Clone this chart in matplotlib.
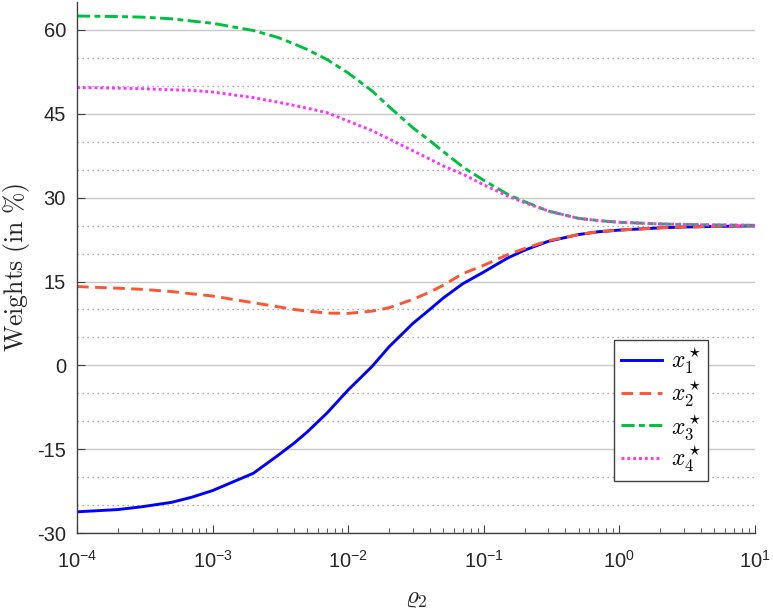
import numpy as np
import matplotlib
matplotlib.use("Agg")
import matplotlib.pyplot as plt
from matplotlib.ticker import FixedLocator, LogLocator

plt.rcParams['font.family'] = ['Liberation Sans', 'DejaVu Sans']
plt.rcParams['mathtext.fontset'] = 'custom'
plt.rcParams['mathtext.rm'] = 'Liberation Sans'
plt.rcParams['mathtext.it'] = 'Liberation Sans:italic'
plt.rcParams['axes.unicode_minus'] = False

rho2 = [1e-4, 2e-4, 3e-4, 5e-4, 7e-4, 1e-3, 2e-3, 3e-3, 4e-3, 5e-3, 7e-3,
        1e-2, 1.5e-2, 2e-2, 3e-2, 4e-2, 5e-2, 7e-2, 0.1, 0.15, 0.2, 0.3,
        0.5, 0.7, 1, 2, 3, 5, 10]
x1 = [-26.2, -25.8, -25.3, -24.5, -23.6, -22.4, -19.3, -16.2, -13.9, -11.9, -8.5,
      -4.4, -0.2, 3.3, 7.5, 10.0, 12.0, 14.6, 16.7, 19.2, 20.6, 22.2,
      23.4, 23.9, 24.2, 24.6, 24.75, 24.85, 24.95]
x2 = [14.1, 13.8, 13.6, 13.2, 12.8, 12.4, 11.2, 10.5, 10.0, 9.7, 9.35,
      9.3, 9.7, 10.3, 11.8, 13.1, 14.3, 16.4, 17.9, 19.8, 20.9, 22.3,
      23.4, 23.9, 24.2, 24.6, 24.75, 24.85, 24.95]
x3 = [62.5, 62.4, 62.3, 62.0, 61.6, 61.2, 59.9, 58.7, 57.5, 56.5, 54.7,
      52.3, 49.1, 46.3, 42.5, 40.2, 38.3, 35.5, 33.1, 30.6, 29.3, 27.6,
      26.3, 25.9, 25.6, 25.3, 25.2, 25.12, 25.05]
x4 = [49.7, 49.6, 49.5, 49.3, 49.2, 48.9, 47.9, 47.1, 46.5, 46.0, 45.2,
      43.7, 42.0, 40.5, 38.4, 36.9, 35.7, 34.2, 32.3, 30.3, 29.1, 27.6,
      26.3, 25.9, 25.6, 25.3, 25.2, 25.12, 25.05]
labels = [r'$x_1^\star$', r'$x_2^\star$', r'$x_3^\star$', r'$x_4^\star$']
yticks = [-30, -15, 0, 15, 30, 45, 60]
yminor = [-25, -20, -10, -5, 5, 10, 20, 25, 35, 40, 50, 55]

fig = plt.figure(figsize=(7.73, 6.12), dpi=100)
ax = fig.add_axes([0.0996, 0.129, 0.877, 0.8677])

lw = 2.1
ax.plot(rho2, x1, color='#0000ff', lw=lw, ls='-', label=labels[0])
ax.plot(rho2, x2, color='#ff5533', lw=lw, ls=(0, (4, 2.2)), label=labels[1])
ax.plot(rho2, x3, color='#00c040', lw=lw, ls=(0, (4.5, 1.5, 2, 1.5)), label=labels[2])
ax.plot(rho2, x4, color='#ff33ff', lw=lw, ls=(0, (1, 1)), label=labels[3])

ax.set_xscale('log')
ax.set_xlim(1e-4, 10)
ax.set_ylim(-30, 65)
ax.set_yticks(yticks)
ax.yaxis.set_minor_locator(FixedLocator(yminor))
ax.xaxis.set_minor_locator(LogLocator(base=10, subs=np.arange(2, 10)))

ax.grid(True, axis='y', which='major', color='#c8c8c8', lw=1.0, ls='-')
ax.grid(True, axis='y', which='minor', color='#909090', lw=0.9, ls=(0, (1, 3)))
ax.set_axisbelow(True)

for s in ['top', 'right']:
    ax.spines[s].set_visible(False)
for s in ['left', 'bottom']:
    ax.spines[s].set_color('#404040')
    ax.spines[s].set_linewidth(1.0)

ax.tick_params(axis='both', which='both', direction='in', colors='#404040',
               labelcolor='#262626', labelsize=14.5)
ax.tick_params(axis='x', which='major', length=6, pad=12)
ax.tick_params(axis='x', which='minor', length=3.5)
ax.tick_params(axis='y', which='major', length=6, pad=8)
ax.tick_params(axis='y', which='minor', length=0)

ax.set_ylabel(r'$\mathrm{Weights\ (in\ \%)}$', fontsize=18.5, math_fontfamily='cm',
              color='#262626')
ax.yaxis.set_label_coords(-0.066, 0.5)
ax.set_xlabel(r'$\varrho_2$', fontsize=18, math_fontfamily='cm', color='#262626',
              labelpad=10)

leg = ax.legend(loc='lower right', bbox_to_anchor=(0.931, 0.098),
                fancybox=False, edgecolor='#404040', framealpha=1,
                handlelength=1.75, labelspacing=0.12, borderpad=0.28,
                handletextpad=0.35, borderaxespad=0, prop={'size': 17})
for t in leg.get_texts():
    t.set_math_fontfamily('cm')
leg.get_frame().set_linewidth(1.0)

fig.savefig('out.png', dpi=100)
